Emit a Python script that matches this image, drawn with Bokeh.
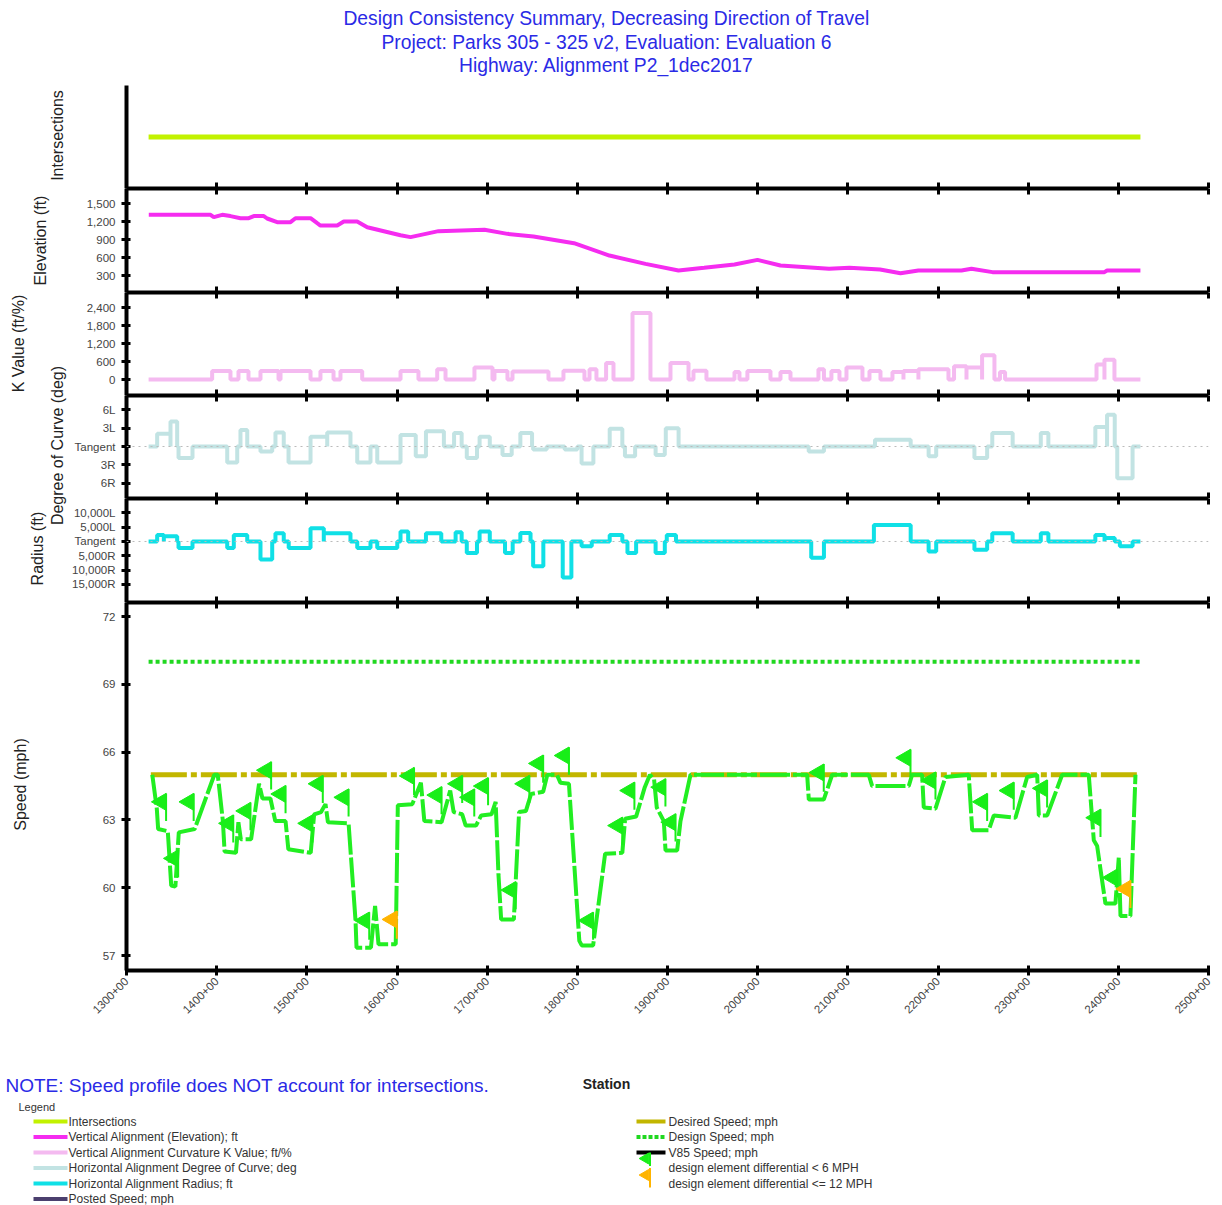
import math
from bokeh.plotting import figure
from bokeh.models import (Range1d, FixedTicker, LinearAxis, ColumnDataSource, Span,
                          CustomLabelingPolicy)
from bokeh.layouts import column, row
from bokeh.embed import file_html
from bokeh.resources import INLINE
from bokeh.core.properties import value
from bokeh.transform import dodge

# ---------------------------------------------------------------- data
title_lines = ["Design Consistency Summary, Decreasing Direction of Travel",
               "Project: Parks 305 - 325 v2, Evaluation: Evaluation 6",
               "Highway: Alignment P2_1dec2017"]
note_text = "NOTE: Speed profile does NOT account for intersections."
x_title = "Station"
axis_titles = ["Intersections", "Elevation (ft)", "K Value (ft/%)",
               "Degree of Curve (deg)", "Radius (ft)", "Speed (mph)"]

station_ticks = [1300, 1400, 1500, 1600, 1700, 1800, 1900, 2000, 2100, 2200, 2300, 2400, 2500]
station_labels = ["1300+00", "1400+00", "1500+00", "1600+00", "1700+00", "1800+00", "1900+00",
                  "2000+00", "2100+00", "2200+00", "2300+00", "2400+00", "2500+00"]

start_station = 1324.5
end_station = 2424.5

intersection_sta = [1324.5, 2424.5]
intersection_level = [0.5, 0.5]

elev_ticks = [300, 600, 900, 1200, 1500]
elev_labels = ["300", "600", "900", "1,200", "1,500"]
elev_sta = [1324.7, 1393.2, 1396.8, 1406.1, 1415.3, 1426.4, 1435.6, 1441.2, 1452.3, 1456.0,
            1467.1, 1481.9, 1487.4, 1504.1, 1511.5, 1515.1, 1533.7, 1541.0, 1555.8, 1567.0,
            1603.9, 1615.0, 1646.0, 1697.0, 1722.5, 1751.4, 1796.3, 1835.6, 1875.6, 1912.2,
            1940.6, 1974.3, 1999.8, 2025.3, 2079.2, 2101.8, 2135.7, 2158.4, 2178.2, 2226.0,
            2237.1, 2260.4, 2384.6, 2387.5, 2424.5]
elev_ft = [1311, 1311, 1272, 1311, 1290, 1255, 1255, 1290, 1290, 1250,
           1189, 1189, 1255, 1255, 1172, 1133, 1133, 1200, 1200, 1105,
           970, 940, 1039, 1061, 994, 950, 839, 633, 494, 383,
           428, 483, 561, 467, 411, 428, 400, 339, 383, 383,
           411, 356, 356, 383, 383]

k_ticks = [0, 600, 1200, 1800, 2400]
k_labels = ["0", "600", "1,200", "1,800", "2,400"]
k_start = [1395.0, 1424.2, 1448.6, 1470.8, 1515.1, 1537.3, 1603.9, 1644.6, 1685.9, 1708.1, 1728.1,
           1784.6, 1813.5, 1831.9, 1861.2, 1903.3, 1928.8, 1974.3, 1988.6, 2025.3, 2067.4,
           2081.8, 2098.5, 2124.0, 2149.5, 2161.7, 2178.3, 2217.8, 2231.6, 2248.9, 2268.7,
           2375.8, 2384.6]
k_end = [1415.3, 1435.3, 1468.6, 1504.1, 1529.6, 1561.4, 1623.8, 1653.8, 1705.9, 1722.5, 1768.0,
         1807.9, 1821.2, 1840.1, 1881.1, 1923.3, 1943.2, 1979.8, 2014.2, 2036.4, 2073.5,
         2090.7, 2116.2, 2136.2, 2161.7, 2178.3, 2211.6, 2231.6, 2248.9, 2262.6, 2274.4,
         2384.6, 2395.7]
k_value = [280, 280, 280, 280, 280, 280, 285, 340, 400, 285, 270,
           290, 340, 553, 2220, 553, 290, 250, 285, 250, 340,
           285, 400, 285, 250, 285, 340, 440, 400, 810, 250,
           500, 660]

deg_ticks = [-6, -3, 0, 3, 6]
deg_labels = ["6R", "3R", "Tangent", "3L", "6L"]
deg_start = [1334.0, 1348.8, 1357.7, 1411.7, 1426.4, 1448.6, 1465.2, 1479.7, 1504.1, 1522.6,
             1555.9, 1578.1, 1603.9, 1620.8, 1632.1, 1663.3, 1677.4, 1691.6, 1717.0, 1736.8,
             1751.0, 1786.0, 1804.7, 1835.9, 1852.8, 1886.8, 1898.1, 2056.6, 2130.1, 2189.6,
             2240.4, 2260.2, 2314.0, 2374.5, 2387.5, 2398.8]
deg_end = [1348.8, 1356.2, 1373.2, 1422.8, 1433.9, 1461.6, 1474.4, 1504.1, 1522.6, 1548.4,
           1570.6, 1603.9, 1620.8, 1632.1, 1652.0, 1671.7, 1688.7, 1702.9, 1727.2, 1749.8,
           1766.0, 1800.0, 1817.8, 1849.9, 1864.1, 1897.0, 1912.3, 2073.5, 2169.7, 2198.0,
           2254.5, 2282.8, 2322.4, 2387.5, 2396.0, 2415.8]
deg_value = [2.1, 4.1, -1.9, -2.6, 2.7, -0.8, 2.3, -2.6, 1.6, 2.3,
             -2.6, -2.6, 1.9, -1.6, 2.5, 2.2, -1.9, 1.6, -1.4, 2.2,
             -0.5, -0.5, -2.8, 2.9, -1.6, -1.4, 3.0, -0.8, 1.1, -1.6,
             -1.9, 2.2, 2.2, 3.2, 5.2, -5.2]

rad_ticks = [-15000, -10000, -5000, 0, 5000, 10000]
rad_labels = ["15,000R", "10,000R", "5,000R", "Tangent", "5,000L", "10,000L"]
rad_start = [1334.0, 1341.4, 1357.7, 1411.7, 1419.0, 1448.6, 1465.2, 1479.9, 1504.1, 1518.8,
             1555.9, 1578.1, 1603.9, 1632.1, 1665.0, 1677.4, 1691.6, 1719.8, 1736.8, 1751.0,
             1783.8, 1804.7, 1835.9, 1855.6, 1886.8, 1899.2, 2059.4, 2128.9, 2189.6, 2240.4,
             2260.2, 2314.0, 2374.5, 2384.7, 2401.7]
rad_end = [1341.4, 1356.2, 1373.2, 1419.0, 1433.9, 1461.6, 1474.4, 1504.1, 1518.8, 1548.4,
           1570.6, 1600.3, 1612.4, 1649.1, 1671.7, 1688.7, 1702.9, 1728.3, 1748.1, 1762.3,
           1793.4, 1816.0, 1849.9, 1865.2, 1897.0, 1909.4, 2073.5, 2169.7, 2198.0, 2254.5,
           2282.8, 2322.4, 2384.7, 2396.0, 2415.8]
rad_value = [2300, 1800, -2300, -2300, 2300, -6300, 2900, -2300, 4600, 2900,
             -2300, -2300, 3450, 2900, 3250, -4000, 3450, -4000, 3000, -8600,
             -12600, -1700, 2300, -4000, -4000, 2300, -5700, 5760, -3500, -2900,
             2900, 2900, 2300, 1200, -1700]

speed_ticks = [57, 60, 63, 66, 69, 72]
speed_labels = ["57", "60", "63", "66", "69", "72"]
desired_speed = 65
design_speed = 70
desired_sta = [1327.0, 2422.7]
design_sta = [1324.5, 2424.5]

v85_sta = [1328.6, 1333.6, 1335.1, 1345.8, 1349.6, 1354.2, 1358.0, 1375.6, 1397.4, 1401.2,
           1406.9, 1408.8, 1421.4, 1424.1, 1426.8, 1438.2, 1447.0, 1450.8, 1459.6, 1465.0,
           1476.4, 1479.5, 1504.3, 1508.1, 1515.8, 1520.7, 1523.4, 1546.3, 1554.0, 1555.1,
           1571.1, 1575.7, 1579.5, 1598.6, 1600.9, 1617.0, 1626.5, 1630.3, 1649.4, 1659.0,
           1662.8, 1672.3, 1676.2, 1687.6, 1693.4, 1704.8, 1709.4, 1712.5, 1715.5, 1729.6,
           1735.4, 1743.0, 1748.7, 1762.1, 1766.7, 1777.4, 1781.2, 1790.7, 1802.2, 1804.9,
           1817.5, 1830.8, 1849.9, 1853.0, 1865.2, 1874.8, 1880.5, 1885.1, 1888.1, 1895.9,
           1897.8, 1910.7, 1914.4, 1925.5, 2054.9, 2056.7, 2073.3, 2082.6, 2123.2, 2127.0,
           2167.6, 2171.3, 2182.4, 2184.2, 2197.2, 2208.3, 2234.1, 2237.9, 2256.3, 2261.9,
           2285.9, 2298.9, 2310.0, 2311.8, 2321.1, 2337.7, 2367.2, 2372.8, 2376.5, 2385.7,
           2396.8, 2400.5, 2402.4, 2413.4, 2419.0]
v85_mph = [65.0, 63.5, 62.6, 62.5, 60.1, 60.05, 62.45, 62.6, 65.0, 65.0,
           62.95, 61.6, 61.55, 62.9, 62.15, 62.15, 64.6, 63.95, 63.95, 62.95,
           62.95, 61.7, 61.55, 63.25, 63.35, 63.7, 62.9, 62.85, 58.55, 57.35,
           57.35, 59.2, 57.5, 57.5, 63.65, 63.7, 64.65, 62.95, 62.9, 64.3,
           63.35, 63.25, 62.75, 62.75, 63.2, 63.25, 63.8, 60.6, 58.6, 58.6,
           63.35, 63.4, 64.15, 64.25, 65.0, 65.0, 64.65, 64.6, 57.65, 57.45,
           57.45, 61.5, 61.55, 63.05, 63.15, 64.45, 65.0, 64.8, 63.55, 62.95,
           61.65, 61.65, 62.95, 65.0, 65.0, 63.9, 63.9, 65.0, 65.0, 64.5,
           64.5, 65.0, 65.0, 63.55, 63.5, 64.9, 65.0, 62.55, 62.55, 63.2,
           63.1, 64.9, 65.0, 63.2, 63.2, 65.0, 65.0, 62.1, 61.85, 59.3,
           59.3, 61.35, 58.75, 58.75, 65.0]

flag_sta = [1343.9, 1357.3, 1374.5, 1418.4, 1437.5, 1460.4, 1476.4, 1506.2, 1517.7, 1546.3,
            1569.2, 1599.8, 1618.9, 1649.4, 1672.3, 1685.7, 1701.0, 1731.6, 1746.8, 1762.1,
            1790.7, 1817.5, 1849.9, 1863.3, 1897.7, 1908.9, 2073.3, 2169.5, 2197.2, 2254.5,
            2284.0, 2321.0, 2380.2, 2398.7, 2413.4]
flag_mph = [63.8, 61.3, 63.8, 62.85, 63.4, 65.2, 64.15, 62.85, 64.6, 64.0,
            58.55, 58.6, 64.95, 64.1, 64.6, 64.0, 64.5, 59.9, 64.6, 65.5,
            65.85, 58.55, 62.75, 64.3, 64.45, 62.9, 65.1, 65.75, 64.75, 63.8,
            64.3, 64.4, 63.1, 60.45, 59.95]
flag_kind = ["lt6", "lt6", "lt6", "lt6", "lt6", "lt6", "lt6", "lt6", "lt6", "lt6",
             "lt6", "le12", "lt6", "lt6", "lt6", "lt6", "lt6", "lt6", "lt6", "lt6",
             "lt6", "lt6", "lt6", "lt6", "lt6", "lt6", "lt6", "lt6", "lt6", "lt6",
             "lt6", "lt6", "lt6", "lt6", "le12"]

legend_left_labels = ["Intersections", "Vertical Alignment (Elevation); ft",
                      "Vertical Alignment Curvature K Value; ft/%",
                      "Horizontal Alignment Degree of Curve; deg",
                      "Horizontal Alignment Radius; ft", "Posted Speed; mph"]
legend_right_labels = ["Desired Speed; mph", "Design Speed; mph", "V85 Speed; mph",
                       "design element differential < 6 MPH",
                       "design element differential <= 12 MPH"]

# ---------------------------------------------------------------- styles
FONT = "Liberation Sans"
TXT = value(FONT)
C_INTER = "#c2f200"
C_ELEV = "#f52cf0"
C_K = "#f4baf0"
C_DEG = "#c2e3e3"
C_RAD = "#10e0e6"
C_POSTED = "#4b3f6e"
C_DESIRED = "#c2b600"
C_DESIGN = "#20d820"
C_V85 = "#22ee22"
C_FLAG = "#18ee18"
C_FLAG12 = "#ffb400"
C_BLUE = "#2a2ae6"

PAGE_W = 1214


def steps(starts, ends, vals, s0, s1):
    xs, ys = [s0], [0.0]
    for a, b, v in zip(starts, ends, vals):
        xs += [a, a, b, b]
        ys += [0.0, v, v, 0.0]
    xs.append(s1)
    ys.append(0.0)
    return xs, ys


def plain(width, height, xr, yr):
    f = figure(width=width, height=height, x_range=xr, y_range=yr,
               x_axis_location=None, y_axis_location=None, output_backend="svg",
               toolbar_location=None, min_border=0)
    f.xgrid.visible = False
    f.ygrid.visible = False
    f.outline_line_color = None
    return f


x_range = Range1d(1300, 2500)
no_labels = CustomLabelingPolicy(code="""
for (const i of Array.from(indices)) { indices.unset(i) }
return indices
""")


def boundary_axis():
    return LinearAxis(ticker=FixedTicker(ticks=station_ticks), axis_line_width=4,
                      axis_line_color="black", major_tick_in=6, major_tick_out=0,
                      major_tick_line_width=3, major_tick_line_color="black",
                      major_label_text_font_size="0px", major_label_standoff=0,
                      major_label_policy=no_labels, minor_tick_line_color=None)


def panel(frame_h, y0, y1, yticks, ylabels, top=True, last=False):
    p = figure(frame_width=1082, frame_height=frame_h, x_range=x_range,
               y_range=Range1d(y0, y1), x_axis_location=None, y_axis_location=None,
               output_backend="svg", toolbar_location=None,
               min_border_left=58, min_border_right=6, min_border_top=0,
               min_border_bottom=52 if last else 0)
    p.xgrid.visible = False
    p.ygrid.visible = False
    p.outline_line_color = None
    ya = LinearAxis(ticker=FixedTicker(ticks=yticks),
                    major_label_overrides={t: l for t, l in zip(yticks, ylabels)},
                    axis_line_width=4, axis_line_color="black",
                    major_tick_in=4, major_tick_out=5, major_tick_line_width=3,
                    major_tick_line_color="black", minor_tick_line_color=None,
                    major_label_text_font_size="11.5px", major_label_text_color="#444444",
                    major_label_text_font=FONT, major_label_standoff=6)
    p.add_layout(ya, "left")
    if top:
        p.add_layout(boundary_axis(), "above")
    if last:
        xa = LinearAxis(ticker=FixedTicker(ticks=station_ticks),
                        major_label_overrides={t: l for t, l in zip(station_ticks, station_labels)},
                        major_label_orientation=math.pi / 4, axis_line_width=4,
                        axis_line_color="black", major_tick_in=5, major_tick_out=5,
                        major_tick_line_width=3, major_tick_line_color="black",
                        minor_tick_line_color=None, major_label_text_font_size="11.5px",
                        major_label_text_color="#444444", major_label_text_font=FONT,
                        major_label_standoff=4)
        p.add_layout(xa, "below")
    else:
        p.add_layout(boundary_axis(), "below")
    return p


# ---------------------------------------------------------------- title
title_fig = plain(PAGE_W, 85, Range1d(0, PAGE_W), Range1d(85, 0))
title_fig.text(x=[606, 606, 606], y=[18, 42, 65], text=title_lines, text_align="center",
               text_baseline="middle", text_font=TXT, text_font_size="19.3px",
               text_color=C_BLUE)

# ---------------------------------------------------------------- panels
p_int = panel(103, 0, 1, [], [], top=False)
p_int.line(intersection_sta, intersection_level, line_color=C_INTER, line_width=5)

p_elev = panel(104, 16.7, 1750, elev_ticks, elev_labels)
p_elev.line(elev_sta, elev_ft, line_color=C_ELEV, line_width=4)

p_k = panel(103, -533, 2900, k_ticks, k_labels)
kx, ky = steps(k_start, k_end, k_value, start_station, end_station)
p_k.line(kx, ky, line_color=C_K, line_width=4)

p_deg = panel(103, -8.52, 8.36, deg_ticks, deg_labels)
p_deg.add_layout(Span(location=0, dimension="width", line_color="#bbbbbb", line_width=1,
                      line_dash="2 4"))
dx, dy = steps(deg_start, deg_end, deg_value, start_station, end_station)
p_deg.line(dx, dy, line_color=C_DEG, line_width=4)

p_rad = panel(104, -21280, 15000, rad_ticks, rad_labels)
p_rad.add_layout(Span(location=0, dimension="width", line_color="#bbbbbb", line_width=1,
                      line_dash="2 4"))
rx, ry = steps(rad_start, rad_end, rad_value, start_station, end_station)
p_rad.line(rx, ry, line_color=C_RAD, line_width=4)

p_spd = panel(368, 56.34, 72.62, speed_ticks, speed_labels, last=True)
p_spd.line(design_sta, [design_speed] * len(design_sta), line_color=C_DESIGN, line_width=4,
           line_dash="4 3")
p_spd.line(desired_sta, [desired_speed] * len(desired_sta), line_color=C_DESIRED, line_width=5,
           line_dash="36 4 6 4")
p_spd.line(v85_sta, v85_mph, line_color=C_V85, line_width=4, line_dash="30 3")

for kind, col in (("lt6", C_FLAG), ("le12", C_FLAG12)):
    idx = [i for i, k in enumerate(flag_kind) if k == kind]
    src = ColumnDataSource(dict(sta=[flag_sta[i] for i in idx], mph=[flag_mph[i] for i in idx]))
    p_spd.segment(x0="sta", y0=dodge("mph", 0.37), x1="sta", y1=dodge("mph", -0.85),
                  source=src, line_color=col, line_width=2)
    p_spd.scatter(x=dodge("sta", -5.4), y="mph", source=src, marker="triangle", size=17,
                  angle=math.pi / 2, fill_color=col, line_color=col)

# ---------------------------------------------------------------- axis titles
label_fig = plain(68, 885, Range1d(0, 68), Range1d(970, 85))
label_fig.text(x=[57, 40, 18, 57, 37, 20], y=[135, 240, 343, 445, 548, 784], text=axis_titles,
               angle=math.pi / 2, text_align="center", text_baseline="middle", text_font=TXT,
               text_font_size="16px", text_color="#222222")

# ---------------------------------------------------------------- note + legend
leg = plain(PAGE_W, 183, Range1d(0, PAGE_W), Range1d(1205, 1022))
leg.text(x=[5], y=[1085], text=[note_text], text_align="left", text_baseline="middle",
         text_font=TXT, text_font_size="19px", text_color=C_BLUE)
leg.text(x=[606], y=[1083], text=[x_title], text_align="center", text_baseline="middle",
         text_font=TXT, text_font_size="14px", text_font_style="bold", text_color="#222222")
leg.text(x=[18], y=[1106], text=["Legend"], text_align="left", text_baseline="middle",
         text_font=TXT, text_font_size="11px", text_color="#333333")

left_rows = [1121 + 15.5 * i for i in range(len(legend_left_labels))]
left_cols = [C_INTER, C_ELEV, C_K, C_DEG, C_RAD, C_POSTED]
leg.segment(x0=[33] * 6, x1=[67] * 6, y0=left_rows, y1=left_rows, line_color=left_cols,
            line_width=4)
leg.text(x=[68] * 6, y=left_rows, text=legend_left_labels, text_align="left",
         text_baseline="middle", text_font=TXT, text_font_size="12px", text_color="#333333")

right_rows = [1121 + 15.5 * i for i in range(len(legend_right_labels))]
leg.segment(x0=[636], x1=[665], y0=[right_rows[0]], y1=[right_rows[0]], line_color=C_DESIRED,
            line_width=4)
leg.segment(x0=[636], x1=[665], y0=[right_rows[1]], y1=[right_rows[1]], line_color=C_DESIGN,
            line_width=4, line_dash="4 2")
leg.segment(x0=[636], x1=[665], y0=[right_rows[2]], y1=[right_rows[2]], line_color="black",
            line_width=4)
leg.segment(x0=[649.5, 649.5], x1=[649.5, 649.5], y0=[right_rows[2], right_rows[3]],
            y1=[right_rows[3] - 2, right_rows[4] + 4], line_color=[C_FLAG, C_FLAG12], line_width=2)
leg.scatter(x=[645, 645], y=[right_rows[2] + 6, right_rows[3] + 7], marker="triangle", size=11,
            angle=math.pi / 2, fill_color=[C_FLAG, C_FLAG12], line_color=[C_FLAG, C_FLAG12])
leg.text(x=[668] * 5, y=right_rows, text=legend_right_labels, text_align="left",
         text_baseline="middle", text_font=TXT, text_font_size="12px", text_color="#333333")

layout = column(title_fig,
                row(label_fig, column(p_int, p_elev, p_k, p_deg, p_rad, p_spd)),
                leg)

open("out.html", "w").write(file_html(layout, INLINE))
